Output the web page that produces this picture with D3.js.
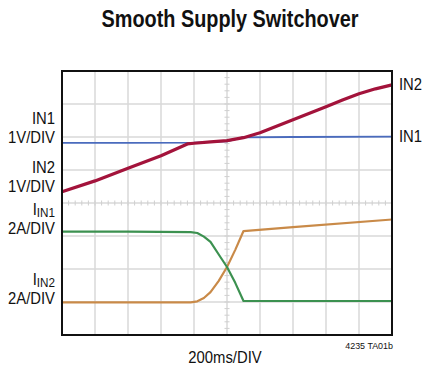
<!DOCTYPE html>
<html>
<head>
<meta charset="utf-8">
<script src="https://cdn.jsdelivr.net/npm/d3@7"></script>
<style>
  body { margin: 0; background: #fff; }
  text { font-family: 'Liberation Sans', Arial, sans-serif; fill: #111; }
</style>
</head>
<body>
<div id="chart"></div>
<script>
const margin = { top: 71, right: 38, bottom: 35, left: 62 }
const width = 430 - margin.left - margin.right
const height = 370 - margin.top - margin.bottom

// time in ms (200ms/DIV, 10 divisions), level in screen divisions (8 divisions)
const in1Time = [0, 400, 800, 1000, 1060, 1090, 1400, 2000]
const in1Div = [5.82, 5.82, 5.83, 5.87, 5.94, 5.99, 6.0, 6.01]

const in2Time = [0, 200, 400, 600, 760, 800, 900, 1000, 1100, 1200, 1400, 1600, 1700, 1800, 1900, 2000]
const in2Div = [4.34, 4.67, 5.05, 5.43, 5.79, 5.81, 5.85, 5.89, 5.98, 6.13, 6.52, 6.92, 7.12, 7.31, 7.46, 7.58]

const iin1Time = [0, 400, 780, 820, 860, 900, 950, 1000, 1050, 1100, 1500, 2000]
const iin1Div = [3.13, 3.13, 3.12, 3.09, 2.98, 2.82, 2.44, 2.06, 1.58, 1.03, 1.03, 1.03]

const iin2Time = [0, 400, 780, 820, 860, 900, 950, 1000, 1050, 1100, 1400, 2000]
const iin2Div = [0.99, 0.99, 0.99, 1.02, 1.12, 1.30, 1.64, 2.06, 2.58, 3.15, 3.27, 3.50]

const traces = [
  { name: 'IIN2', t: iin2Time, v: iin2Div, color: '#c98a48', w: 2.2 },
  { name: 'IIN1', t: iin1Time, v: iin1Div, color: '#3c9150', w: 2.2 },
  { name: 'IN1', t: in1Time, v: in1Div, color: '#4a6bbd', w: 1.8 },
  { name: 'IN2', t: in2Time, v: in2Div, color: '#a3133b', w: 3.2 }
]

const leftLabels = [
  { y: 6.4, lines: [['IN1'], ['1V/DIV']] },
  { y: 4.9, lines: [['IN2'], ['1V/DIV']] },
  { y: 3.63, lines: [['I', 'IN1'], ['2A/DIV']] },
  { y: 1.52, lines: [['I', 'IN2'], ['2A/DIV']] }
]

const fontSize = 16.5
const squeeze = 0.9

const xScale = d3.scaleLinear().domain([0, 2000]).range([0, width])
const yScale = d3.scaleLinear().domain([0, 8]).range([height, 0])

const svg = d3.select('#chart')
  .append('svg')
  .attr('width', 430)
  .attr('height', 370)

svg.append('text')
  .attr('x', 230)
  .attr('y', 27)
  .attr('text-anchor', 'middle')
  .attr('font-size', 24)
  .attr('font-weight', 'bold')
  .attr('textLength', 257)
  .attr('lengthAdjust', 'spacingAndGlyphs')
  .text('Smooth Supply Switchover')

const g = svg.append('g')
  .attr('transform', `translate(${margin.left}, ${margin.top})`)

// grid
const grid = g.append('g')
  .attr('stroke', '#d9d9d9')
  .attr('stroke-width', 1.5)

grid.selectAll('.vx')
  .data(d3.range(200, 2000, 200))
  .join('line')
  .attr('x1', (d) => xScale(d))
  .attr('x2', (d) => xScale(d))
  .attr('y1', 0)
  .attr('y2', height)

grid.selectAll('.hy')
  .data(d3.range(1, 8))
  .join('line')
  .attr('x1', 0)
  .attr('x2', width)
  .attr('y1', (d) => yScale(d))
  .attr('y2', (d) => yScale(d))

// minor ticks on the centre lines
const minor = g.append('g')
  .attr('stroke', '#cfcfcf')
  .attr('stroke-width', 1)

minor.selectAll('.mx')
  .data(d3.range(40, 2000, 40))
  .join('line')
  .attr('x1', (d) => xScale(d))
  .attr('x2', (d) => xScale(d))
  .attr('y1', yScale(4) - 2.5)
  .attr('y2', yScale(4) + 2.5)

minor.selectAll('.my')
  .data(d3.range(0.2, 8, 0.2))
  .join('line')
  .attr('x1', xScale(1000) - 2.5)
  .attr('x2', xScale(1000) + 2.5)
  .attr('y1', (d) => yScale(d))
  .attr('y2', (d) => yScale(d))

// traces
const line = d3.line()
  .x((d) => xScale(d[0]))
  .y((d) => yScale(d[1]))
  .curve(d3.curveLinear)

g.selectAll('.trace')
  .data(traces)
  .join('path')
  .attr('fill', 'none')
  .attr('stroke', (d) => d.color)
  .attr('stroke-width', (d) => d.w)
  .attr('stroke-linejoin', 'round')
  .attr('d', (d) => line(d.t.map((t, i) => [t, d.v[i]])))

// frame
g.append('rect')
  .attr('width', width)
  .attr('height', height)
  .attr('fill', 'none')
  .attr('stroke', '#111')
  .attr('stroke-width', 2)

// narrow text helper
function label(x, y, anchor) {
  return g.append('text')
    .attr('transform', `translate(${x}, ${y}) scale(${squeeze}, 1)`)
    .attr('text-anchor', anchor)
    .attr('font-size', fontSize)
}

// left labels
leftLabels.forEach((lab) => {
  lab.lines.forEach((parts, i) => {
    const t = label(-7, yScale(lab.y) + i * 19, 'end')
    t.append('tspan').text(parts[0])
    if (parts[1]) {
      t.append('tspan')
        .attr('dy', 2)
        .attr('font-size', 13)
        .text(parts[1])
    }
  })
})

// right labels
const rightLabels = [
  { name: 'IN2', v: in2Div[in2Div.length - 1] },
  { name: 'IN1', v: in1Div[in1Div.length - 1] }
]
rightLabels.forEach((d) => {
  label(width + 7, yScale(d.v) + 5, 'start').text(d.name)
})

label(xScale(1000) - 2, height + 28, 'middle').text('200ms/DIV')

g.append('text')
  .attr('x', width + 1)
  .attr('y', height + 14)
  .attr('text-anchor', 'end')
  .attr('font-size', 9.5)
  .attr('transform', `translate(${(width + 1) * 0.06}, 0) scale(0.94, 1)`)
  .text('4235 TA01b')
</script>
</body>
</html>
